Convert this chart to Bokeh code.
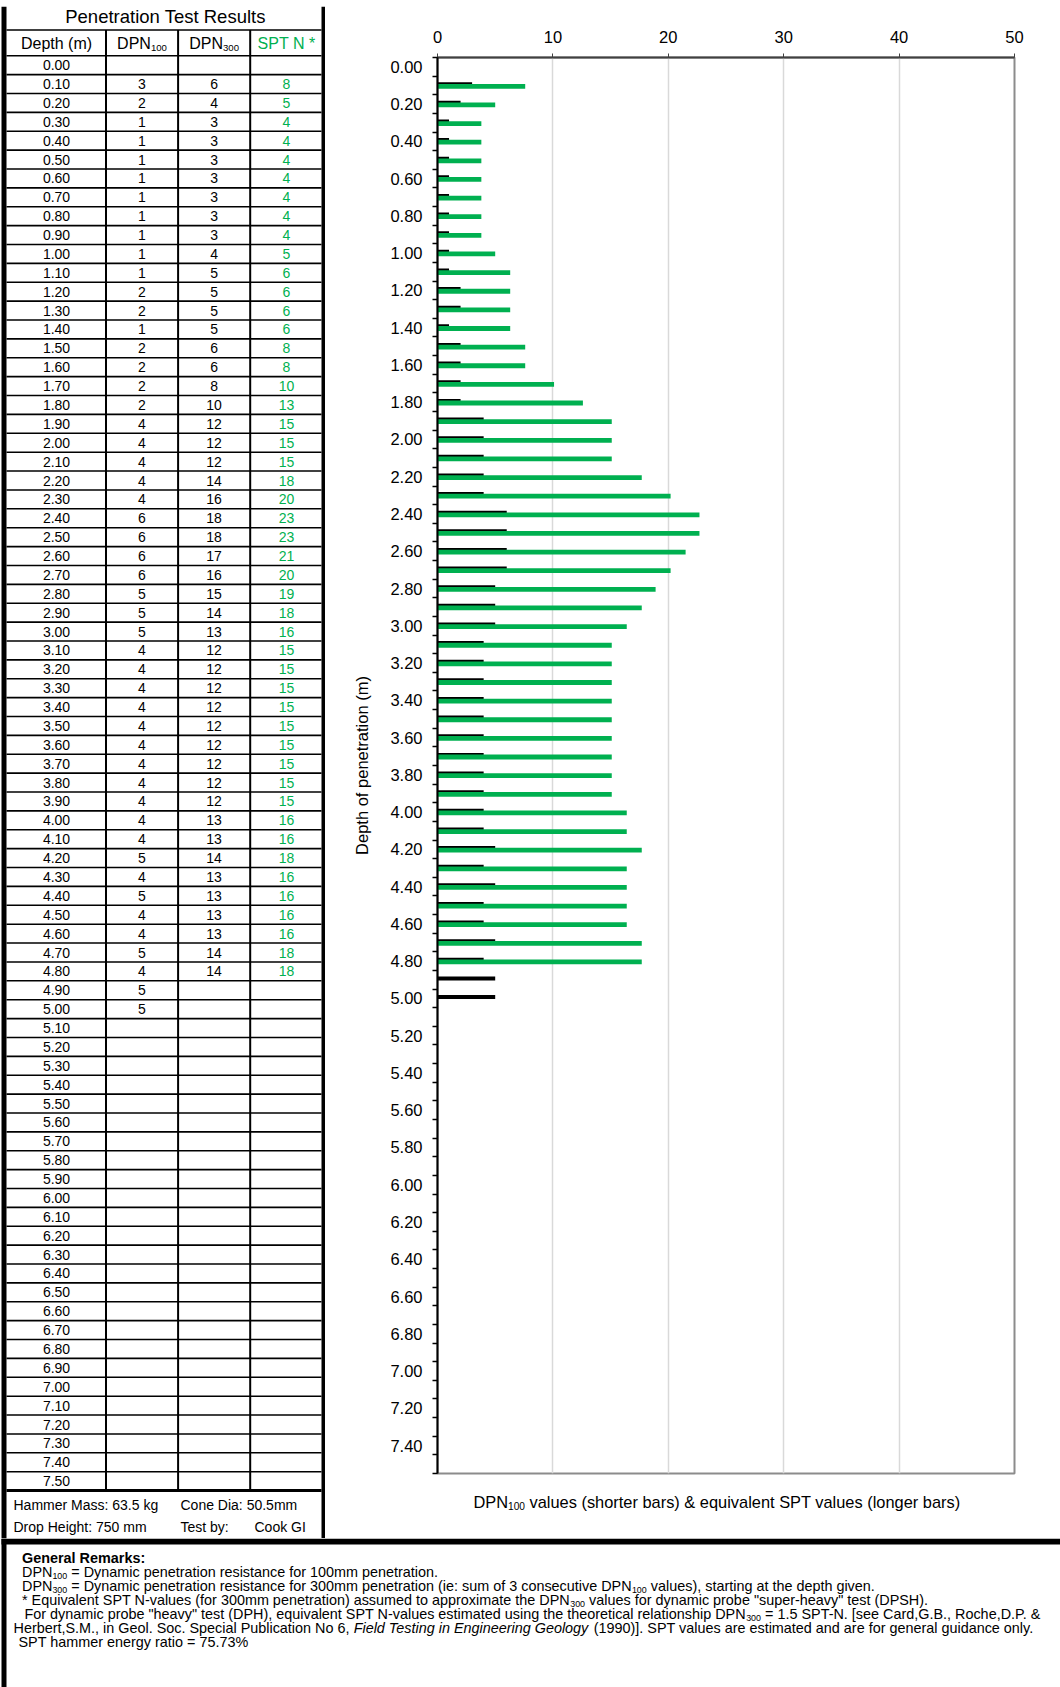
from bokeh.plotting import figure
from bokeh.models import Range1d, FixedTicker, PrintfTickFormatter, ColumnDataSource
from bokeh.layouts import column, row
from bokeh.transform import dodge
from bokeh.embed import file_html
from bokeh.resources import INLINE
from bokeh.core.properties import value

# ---------------- data ----------------
depth_labels = ["0.00", "0.10", "0.20", "0.30", "0.40", "0.50", "0.60", "0.70", "0.80", "0.90",
                "1.00", "1.10", "1.20", "1.30", "1.40", "1.50", "1.60", "1.70", "1.80", "1.90",
                "2.00", "2.10", "2.20", "2.30", "2.40", "2.50", "2.60", "2.70", "2.80", "2.90",
                "3.00", "3.10", "3.20", "3.30", "3.40", "3.50", "3.60", "3.70", "3.80", "3.90",
                "4.00", "4.10", "4.20", "4.30", "4.40", "4.50", "4.60", "4.70", "4.80", "4.90",
                "5.00", "5.10", "5.20", "5.30", "5.40", "5.50", "5.60", "5.70", "5.80", "5.90",
                "6.00", "6.10", "6.20", "6.30", "6.40", "6.50", "6.60", "6.70", "6.80", "6.90",
                "7.00", "7.10", "7.20", "7.30", "7.40", "7.50"]

# DPN100 for depths 0.10 .. 5.00
dpn100 = [3, 2, 1, 1, 1, 1, 1, 1, 1, 1,
          1, 2, 2, 1, 2, 2, 2, 2, 4, 4,
          4, 4, 4, 6, 6, 6, 6, 5, 5, 5,
          4, 4, 4, 4, 4, 4, 4, 4, 4, 4,
          4, 5, 4, 5, 4, 4, 5, 4, 5, 5]

# DPN300 for depths 0.10 .. 4.80
dpn300 = [6, 4, 3, 3, 3, 3, 3, 3, 3, 4,
          5, 5, 5, 5, 6, 6, 8, 10, 12, 12,
          12, 14, 16, 18, 18, 17, 16, 15, 14, 13,
          12, 12, 12, 12, 12, 12, 12, 12, 12, 13,
          13, 14, 13, 13, 13, 13, 14, 14]

# SPT N (table values, rounded) for depths 0.10 .. 4.80
spt_n = [8, 5, 4, 4, 4, 4, 4, 4, 4, 5,
         6, 6, 6, 6, 8, 8, 10, 13, 15, 15,
         15, 18, 20, 23, 23, 21, 20, 19, 18, 16,
         15, 15, 15, 15, 15, 15, 15, 15, 15, 16,
         16, 18, 16, 16, 16, 16, 18, 18]

# SPT bar lengths (unrounded) for depths 0.10 .. 4.80
spt_bar = [7.6, 5.0, 3.8, 3.8, 3.8, 3.8, 3.8, 3.8, 3.8, 5.0,
           6.3, 6.3, 6.3, 6.3, 7.6, 7.6, 10.1, 12.6, 15.1, 15.1,
           15.1, 17.7, 20.2, 22.7, 22.7, 21.5, 20.2, 18.9, 17.7, 16.4,
           15.1, 15.1, 15.1, 15.1, 15.1, 15.1, 15.1, 15.1, 15.1, 16.4,
           16.4, 17.7, 16.4, 16.4, 16.4, 16.4, 17.7, 17.7]

x_ticks = [0, 10, 20, 30, 40, 50]
y_tick_labels = depth_labels[0:75:2]   # 0.00 .. 7.40

hammer_info = [("Hammer Mass: 63.5 kg", "Cone Dia: 50.5mm", ""),
               ("Drop Height: 750 mm", "Test by:", "Cook GI")]

# ---------------- styling ----------------
FONT = "Liberation Sans"
GREEN = "#00B050"

AW = {' ': 278, '!': 278, '"': 355, '#': 556, '$': 556, '%': 889, '&': 667, "'": 191, '(': 333, ')': 333,
      '*': 389, '+': 584, ',': 278, '-': 333, '.': 278, '/': 278, ':': 278, ';': 278, '<': 584, '=': 584,
      '>': 584, '?': 556, '@': 1015, 'A': 667, 'B': 667, 'C': 722, 'D': 722, 'E': 667, 'F': 611, 'G': 778,
      'H': 722, 'I': 278, 'J': 500, 'K': 667, 'L': 556, 'M': 833, 'N': 722, 'O': 778, 'P': 667, 'Q': 778,
      'R': 722, 'S': 667, 'T': 611, 'U': 722, 'V': 667, 'W': 944, 'X': 667, 'Y': 667, 'Z': 611, '[': 278,
      ']': 278, 'a': 556, 'b': 556, 'c': 500, 'd': 556, 'e': 556, 'f': 278, 'g': 556, 'h': 556, 'i': 222,
      'j': 222, 'k': 500, 'l': 222, 'm': 833, 'n': 556, 'o': 556, 'p': 556, 'q': 556, 'r': 333, 's': 500,
      't': 278, 'u': 556, 'v': 500, 'w': 722, 'x': 500, 'y': 500, 'z': 500}


def tw(s, size):
    return sum(AW.get(c, 556) for c in s) * size / 1000.0


def rich(p, x, y, segs, size, color="black", align="left", sub_scale=0.62):
    items = []
    cx = 0.0
    for t, k in segs:
        fs = size * sub_scale if k == "sub" else size
        dy = size * 0.3 if k == "sub" else 0.0
        lead = len(t) - len(t.lstrip(" "))
        items.append((cx + tw(" " * lead, fs), t.strip(" "), k, fs, dy))
        cx += tw(t, fs)
    x0 = x - cx / 2.0 if align == "center" else x
    for ox, t, k, fs, dy in items:
        p.text(x=[x0 + ox], y=[y + dy], text=[t], text_font=value(FONT),
               text_font_size=f"{fs:.1f}px",
               text_font_style="italic" if k == "i" else ("bold" if k == "b" else "normal"),
               text_baseline="middle", text_align="left", text_color=color)


def blank(w, h, xr, yr):
    p = figure(width=w, height=h, x_range=Range1d(*xr), y_range=Range1d(*yr),
               x_axis_type=None, y_axis_type=None, output_backend="svg", toolbar_location=None,
               min_border=0)
    p.outline_line_color = None
    p.background_fill_color = "white"
    p.border_fill_color = "white"
    return p


def txt(p, x, y, t, size, color="black", align="center"):
    p.text(x=x, y=y, text=t, text_font=value(FONT), text_font_size=size,
           text_align=align, text_baseline="middle", text_color=color)


# ---------------- top border strip ----------------
top = blank(1060, 6, (0, 1060), (6, 0))
top.quad(left=1, right=1060, top=2, bottom=6, color="black", line_color=None)

# ---------------- table ----------------
tab = blank(325, 1532, (0, 325), (1538, 6))
col_edges = [6, 105.5, 177.6, 249.7, 321]
col_c = [56, 141.5, 213.6, 286]
title_bottom = 29.5
header_bottom = 55.2
row_h = 18.88
n_rows = len(depth_labels)
table_bottom = header_bottom + n_rows * row_h

hy = [title_bottom, header_bottom] + [header_bottom + k * row_h for k in range(1, n_rows)]
tab.segment(x0=[6] * len(hy), x1=[321] * len(hy), y0=hy, y1=hy, line_color="black", line_width=1.6)
tab.segment(x0=col_edges[1:4], x1=col_edges[1:4], y0=[title_bottom] * 3, y1=[table_bottom] * 3,
            line_color="black", line_width=2)
tab.quad(left=1, right=6, top=6, bottom=1538, color="black", line_color=None)
tab.quad(left=321, right=325, top=6, bottom=1538, color="black", line_color=None)
tab.quad(left=6, right=321, top=table_bottom - 1.5, bottom=table_bottom + 1.5, color="black", line_color=None)

txt(tab, [165], [16], ["Penetration Test Results"], "18.5px")
hc = 42.5
txt(tab, [col_c[0]], [hc], ["Depth (m)"], "16px")
rich(tab, col_c[1], hc, [("DPN", "n"), ("100", "sub")], 16, align="center", sub_scale=0.6)
rich(tab, col_c[2], hc, [("DPN", "n"), ("300", "sub")], 16, align="center", sub_scale=0.6)
txt(tab, [col_c[3]], [hc], ["SPT N *"], "16px", color=GREEN)

row_c = [header_bottom + (i + 0.5) * row_h for i in range(n_rows)]
txt(tab, [col_c[0]] * n_rows, row_c, depth_labels, "14px")
txt(tab, [col_c[1]] * len(dpn100), row_c[1:1 + len(dpn100)], [str(v) for v in dpn100], "14px")
txt(tab, [col_c[2]] * len(dpn300), row_c[1:1 + len(dpn300)], [str(v) for v in dpn300], "14px")
txt(tab, [col_c[3]] * len(spt_n), row_c[1:1 + len(spt_n)], [str(v) for v in spt_n], "14px", color=GREEN)

for (a, b, c), yc in zip(hammer_info, [1504, 1526]):
    for t, xx in ((a, 13), (b, 180), (c, 254)):
        if t:
            txt(tab, [xx], [yc], [t], "14px", align="left")

# ---------------- chart ----------------
chart = figure(width=735, height=1474, x_range=Range1d(0, 50), y_range=Range1d(7.55, -0.05),
               x_axis_location="above", output_backend="svg", toolbar_location=None,
               min_border_left=112, min_border_right=46, min_border_top=51, min_border_bottom=7)
chart.background_fill_color = "white"
chart.border_fill_color = "white"
chart.outline_line_color = "#8c8c8c"
chart.outline_line_width = 2

xa = chart.xaxis[0]
xa.ticker = FixedTicker(ticks=x_ticks)
xa.axis_line_color = "#404040"
xa.axis_line_width = 2
xa.major_tick_out = 4
xa.major_tick_in = 0
xa.major_tick_line_color = "#404040"
xa.minor_tick_line_color = None
xa.major_label_text_font = FONT
xa.major_label_text_font_size = "16.5px"
xa.major_label_text_color = "black"
xa.major_label_standoff = 11

ya = chart.yaxis[0]
ya.ticker = FixedTicker(ticks=[float(d) for d in y_tick_labels],
                        minor_ticks=[float(d) - 0.05 for d in depth_labels] + [float(depth_labels[-1]) + 0.05])
ya.formatter = PrintfTickFormatter(format="%.2f")
ya.axis_line_color = "black"
ya.axis_line_width = 2
ya.major_tick_in = 0
ya.major_tick_out = 0
ya.minor_tick_in = 0
ya.minor_tick_out = 5
ya.minor_tick_line_color = "black"
ya.minor_tick_line_width = 1.5
ya.major_label_text_font = FONT
ya.major_label_text_font_size = "16.5px"
ya.major_label_text_color = "black"
ya.major_label_standoff = 10
ya.axis_label = "Depth of penetration (m)"
ya.axis_label_text_font = FONT
ya.axis_label_text_font_size = "16.5px"
ya.axis_label_text_font_style = "normal"
ya.axis_label_text_color = "black"
ya.axis_label_standoff = 16

chart.xgrid.grid_line_color = "#d9d9d9"
chart.xgrid.grid_line_width = 1.5
chart.ygrid.grid_line_color = None

src100 = ColumnDataSource(dict(depth=[float(d) for d in depth_labels[1:1 + len(dpn100)]], val=dpn100))
srcspt = ColumnDataSource(dict(depth=[float(d) for d in depth_labels[1:1 + len(spt_bar)]], val=spt_bar))
chart.hbar(y=dodge("depth", -0.007, range=chart.y_range), left=0, right="val", height=0.0215,
           source=src100, fill_color="black", line_color=None)
chart.hbar(y=dodge("depth", 0.0045, range=chart.y_range), left=0, right="val", height=0.0258,
           source=srcspt, fill_color=GREEN, line_color=None)

# ---------------- x title strip (frame aligns with the chart frame) ----------------
xt = blank(735, 58, (437.5, 1014.5), (1538, 1480))
rich(xt, 717, 1501, [("DPN", "n"), ("100", "sub"),
                     (" values (shorter bars) & equivalent SPT values (longer bars)", "n")], 16.4, align="center")

# ---------------- remarks ----------------
rem = blank(1060, 149, (0, 1060), (1687, 1538))
rem.quad(left=1, right=6, top=1538, bottom=1687, color="black", line_color=None)
rem.quad(left=1, right=1060, top=1538, bottom=1544, color="black", line_color=None)
RS = 14.4
rich(rem, 21.5, 1557, [("General Remarks:", "b")], RS)
rich(rem, 21.5, 1571, [("DPN", "n"), ("100", "sub"), (" = Dynamic penetration resistance for 100mm penetration.", "n")], RS)
rich(rem, 21.5, 1585, [("DPN", "n"), ("300", "sub"),
                       (" = Dynamic penetration resistance for 300mm penetration (ie: sum of 3 consecutive DPN", "n"),
                       ("100", "sub"), (" values), starting at the depth given.", "n")], RS)
rich(rem, 21.5, 1599, [("* Equivalent SPT N-values (for 300mm penetration) assumed to approximate the DPN", "n"),
                       ("300", "sub"), (" values for dynamic probe \"super-heavy\" test (DPSH).", "n")], RS)
rich(rem, 24, 1613, [("For dynamic probe \"heavy\" test (DPH), equivalent SPT N-values estimated using the theoretical relationship DPN", "n"),
                     ("300", "sub"), (" = 1.5 SPT-N. [see Card,G.B., Roche,D.P. &", "n")], RS)
rich(rem, 13, 1627, [("Herbert,S.M., in Geol. Soc. Special Publication No 6, ", "n"),
                     ("Field Testing in Engineering Geology", "i"),
                     (" (1990)]. SPT values are estimated and are for general guidance only.", "n")], RS)
rich(rem, 18, 1641, [("SPT hammer energy ratio = 75.73%", "n")], RS)

layout = column(top, row(tab, column(chart, xt)), rem)
open("out.html", "w").write(file_html(layout, INLINE, title="Penetration Test Results"))
